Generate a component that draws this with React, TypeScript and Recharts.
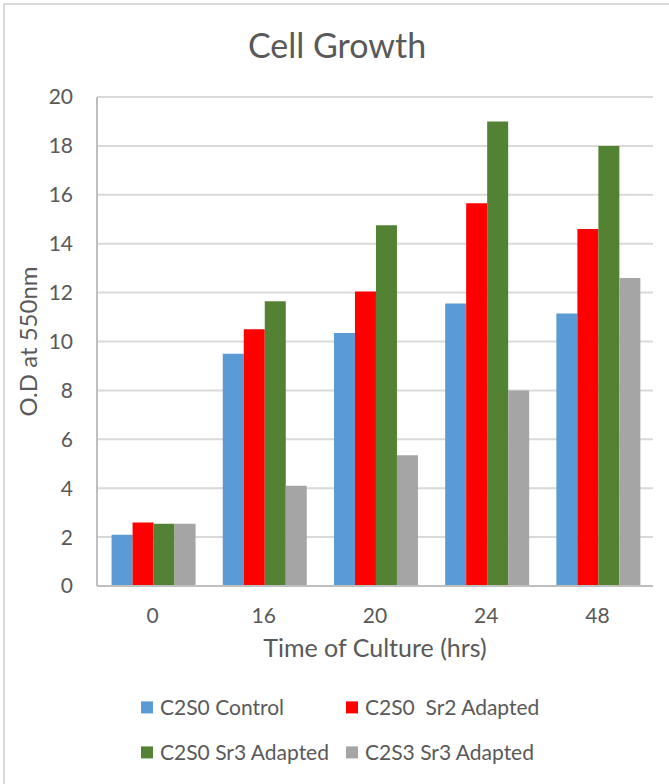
import React from 'react';
import { BarChart, Bar, XAxis, YAxis, CartesianGrid, Legend, Label } from 'recharts';

// Sampling times (hours) and optical density readings for each culture
const times = ['0', '16', '20', '24', '48'];
const controlC2S0 = [2.1, 9.5, 10.35, 11.55, 11.15];
const sr2AdaptedC2S0 = [2.6, 10.5, 12.05, 15.65, 14.6];
const sr3AdaptedC2S0 = [2.55, 11.65, 14.75, 19.0, 18.0];
const sr3AdaptedC2S3 = [2.55, 4.1, 5.35, 8.0, 12.6];
const yTicks = [0, 2, 4, 6, 8, 10, 12, 14, 16, 18, 20];

const seriesNames = ['C2S0 Control', 'C2S0  Sr2 Adapted', 'C2S0 Sr3 Adapted', 'C2S3 Sr3 Adapted'];
const seriesColors = ['#5B9BD5', '#FF0000', '#548235', '#A5A5A5'];

const data = times.map((t, i) => ({
  time: t,
  s0: controlC2S0[i],
  s1: sr2AdaptedC2S0[i],
  s2: sr3AdaptedC2S0[i],
  s3: sr3AdaptedC2S3[i],
}));

const TEXT = '#595959';
const FONT = 'Lato, "Open Sans", sans-serif';

// Two-column legend, kept in series order
const LegendGrid = (props: any) => {
  const payload = [...(props.payload || [])].sort(
    (a: any, b: any) => seriesNames.indexOf(a.value) - seriesNames.indexOf(b.value)
  );
  return (
    <div style={{ position: 'relative', width: 669, height: 90 }}>
      {payload.map((entry: any, i: number) => {
        const col = i % 2;
        const row = Math.floor(i / 2);
        return (
          <div
            key={i}
            style={{
              position: 'absolute',
              left: col === 0 ? 141 : 346,
              top: row === 0 ? 19 : 64,
              transform: 'translateY(-50%)',
              display: 'flex',
              alignItems: 'center',
              fontFamily: FONT,
              fontSize: 21,
              color: TEXT,
              whiteSpace: 'pre',
              lineHeight: 1.2,
            }}
          >
            <span style={{ display: 'inline-block', width: 12, height: 12, background: entry.color, marginRight: 7 }} />
            <span>{entry.value}</span>
          </div>
        );
      })}
    </div>
  );
};

export default function App() {
  return (
    <div style={{ position: 'absolute', left: 0, top: 0, width: 669, height: 784, background: '#fff', overflow: 'hidden', fontFamily: FONT }}>
      <div
        style={{
          position: 'absolute',
          left: 3,
          top: 3,
          width: 700,
          height: 820,
          borderLeft: '2px solid #D9D9D9',
          borderTop: '2px solid #D9D9D9',
        }}
      />
      <div
        style={{
          position: 'absolute',
          left: 0,
          top: 25,
          width: 674,
          textAlign: 'center',
          fontSize: 34,
          lineHeight: 1.2,
          color: TEXT,
          fontFamily: FONT,
        }}
      >
        Cell Growth
      </div>
      <div style={{ position: 'absolute', left: 0, top: 0 }}>
        <BarChart
          width={669}
          height={784}
          data={data}
          margin={{ top: 97, right: 16, bottom: 118, left: 0 }}
          barCategoryGap="13.1%"
          barGap={0}
        >
          <CartesianGrid vertical={false} stroke="#D9D9D9" strokeWidth={2} />
          <XAxis
            dataKey="time"
            height={80}
            tickLine={false}
            tickSize={0}
            tickMargin={22}
            axisLine={{ stroke: '#BFBFBF', strokeWidth: 2 }}
            tick={{ fill: TEXT, fontSize: 21, fontFamily: FONT }}
          >
            <Label
              value="Time of Culture (hrs)"
              position="insideBottom"
              offset={9}
              style={{ fill: TEXT, fontSize: 25, fontFamily: FONT }}
            />
          </XAxis>
          <YAxis
            width={97}
            domain={[0, 20]}
            ticks={yTicks}
            interval={0}
            tickLine={false}
            tickSize={0}
            tickMargin={24}
            axisLine={{ stroke: '#BFBFBF', strokeWidth: 2 }}
            tick={{ fill: TEXT, fontSize: 21, fontFamily: FONT }}
          >
            <Label
              value="O.D at 550nm"
              angle={-90}
              position="insideLeft"
              offset={28}
              style={{ fill: TEXT, fontSize: 24, fontFamily: FONT, textAnchor: 'middle' }}
            />
          </YAxis>
          <Legend
            layout="horizontal"
            verticalAlign="middle"
            align="center"
            wrapperStyle={{ top: 688, left: 0, width: 669 }}
            content={<LegendGrid />}
          />
          {['s0', 's1', 's2', 's3'].map((k, i) => (
            <Bar key={k} dataKey={k} name={seriesNames[i]} fill={seriesColors[i]} isAnimationActive={false} />
          ))}
        </BarChart>
      </div>
    </div>
  );
}
